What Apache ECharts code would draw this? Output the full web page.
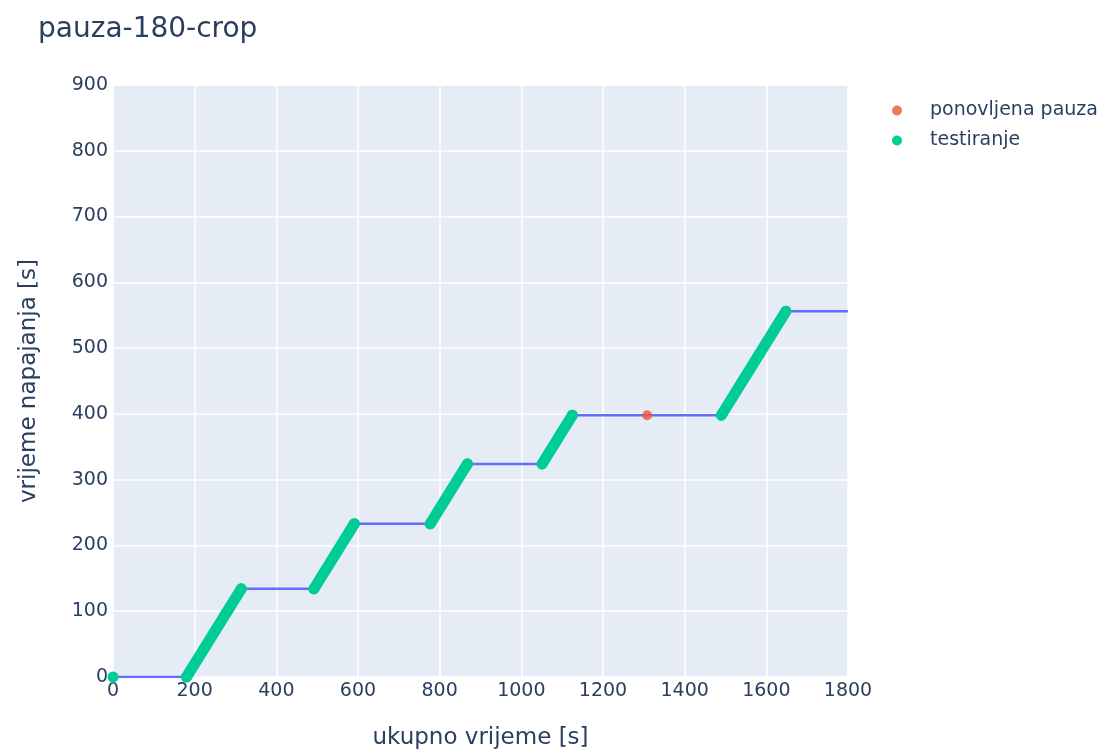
<!DOCTYPE html>
<html>
<head>
<meta charset="utf-8">
<script src="https://cdn.jsdelivr.net/npm/echarts@6/dist/echarts.min.js"></script>
<style>
  html, body { margin: 0; padding: 0; background: #ffffff; }
  #chart { width: 1112px; height: 752px; }
</style>
</head>
<body>
<div id="chart"></div>
<script>
// Full trace: total time vs. powered time (breakpoints)
const totalTime = [0, 180, 314, 492, 591, 777, 868, 1051, 1125, 1490, 1648, 1800];
const powerTime = [0, 0, 134, 134, 233, 233, 324, 324, 398, 398, 556, 556];

// Testing intervals (start/end total time, start/end powered time)
const testStartT = [180, 492, 777, 1051, 1490];
const testEndT   = [314, 591, 868, 1125, 1648];
const testStartV = [0, 134, 233, 324, 398];
const testEndV   = [134, 233, 324, 398, 556];
// Single testing point at start
const testPointT = [0];
const testPointV = [0];

// Repeated pause point
const pauseT = [1308];
const pauseV = [398];

// Axis ticks
const xTicks = [0, 200, 400, 600, 800, 1000, 1200, 1400, 1600, 1800];
const yTicks = [0, 100, 200, 300, 400, 500, 600, 700, 800, 900];

const fontFam = '"DejaVu Sans", Verdana, sans-serif';
const txt = '#2a3f5f';

const traceData = totalTime.map((t, i) => [t, powerTime[i]]);
const testData = [];
testPointT.forEach((t, i) => { testData.push([t, testPointV[i]]); testData.push(['-', '-']); });
testStartT.forEach((t, i) => {
  testData.push([t, testStartV[i]]);
  testData.push([testEndT[i], testEndV[i]]);
  testData.push(['-', '-']);
});
const pauseData = pauseT.map((t, i) => [t, pauseV[i]]);

const chart = echarts.init(document.getElementById('chart'), null, { renderer: 'canvas' });
chart.setOption({
  animation: false,
  backgroundColor: '#ffffff',
  title: {
    text: 'pauza-180-crop',
    left: 38, top: 16, padding: 0,
    textStyle: { fontFamily: fontFam, fontSize: 28, fontWeight: 'normal', color: txt }
  },
  legend: {
    orient: 'vertical',
    left: 887, top: 96,
    icon: 'circle',
    itemWidth: 56, itemHeight: 10, itemGap: 11,
    data: ['ponovljena pauza', 'testiranje'],
    textStyle: { fontFamily: fontFam, fontSize: 19, color: txt }
  },
  grid: {
    left: 113, right: 264, top: 85, bottom: 75,
    outerBoundsMode: 'none', containLabel: false,
    show: true, backgroundColor: '#e5ecf6', borderWidth: 0
  },
  xAxis: {
    type: 'value', min: 0, max: 1800, interval: 200,
    name: 'ukupno vrijeme [s]', nameLocation: 'middle', nameGap: 50,
    nameTextStyle: { fontFamily: fontFam, fontSize: 23, color: txt },
    axisLine: { show: false }, axisTick: { show: false },
    axisLabel: { fontFamily: fontFam, fontSize: 19, color: txt, margin: 5,
      formatter: v => xTicks.includes(v) ? String(v) : '' },
    splitLine: { show: true, lineStyle: { color: '#ffffff', width: 1.5 } }
  },
  yAxis: {
    type: 'value', min: 0, max: 900, interval: 100,
    name: 'vrijeme napajanja [s]', nameLocation: 'middle', nameGap: 72,
    nameTextStyle: { fontFamily: fontFam, fontSize: 23, color: txt },
    axisLine: { show: false }, axisTick: { show: false },
    axisLabel: { fontFamily: fontFam, fontSize: 19, color: txt, margin: 5,
      formatter: v => yTicks.includes(v) ? String(v) : '' },
    splitLine: { show: true, lineStyle: { color: '#ffffff', width: 1.5 } }
  },
  series: [
    {
      name: 'trace', type: 'line', data: traceData,
      showSymbol: false, symbol: 'none',
      lineStyle: { color: '#636efa', width: 2.5 },
      itemStyle: { color: '#636efa' },
      z: 2
    },
    {
      name: 'testiranje', type: 'line', data: testData,
      connectNulls: false,
      symbol: 'circle', symbolSize: 11, showSymbol: true,
      lineStyle: { color: '#00cc96', width: 11, cap: 'round' },
      itemStyle: { color: '#00cc96', borderWidth: 0 },
      z: 3
    },
    {
      name: 'ponovljena pauza', type: 'scatter', data: pauseData,
      symbol: 'circle', symbolSize: 10,
      itemStyle: { color: '#ef553b' },
      z: 4
    }
  ]
});
</script>
</body>
</html>
